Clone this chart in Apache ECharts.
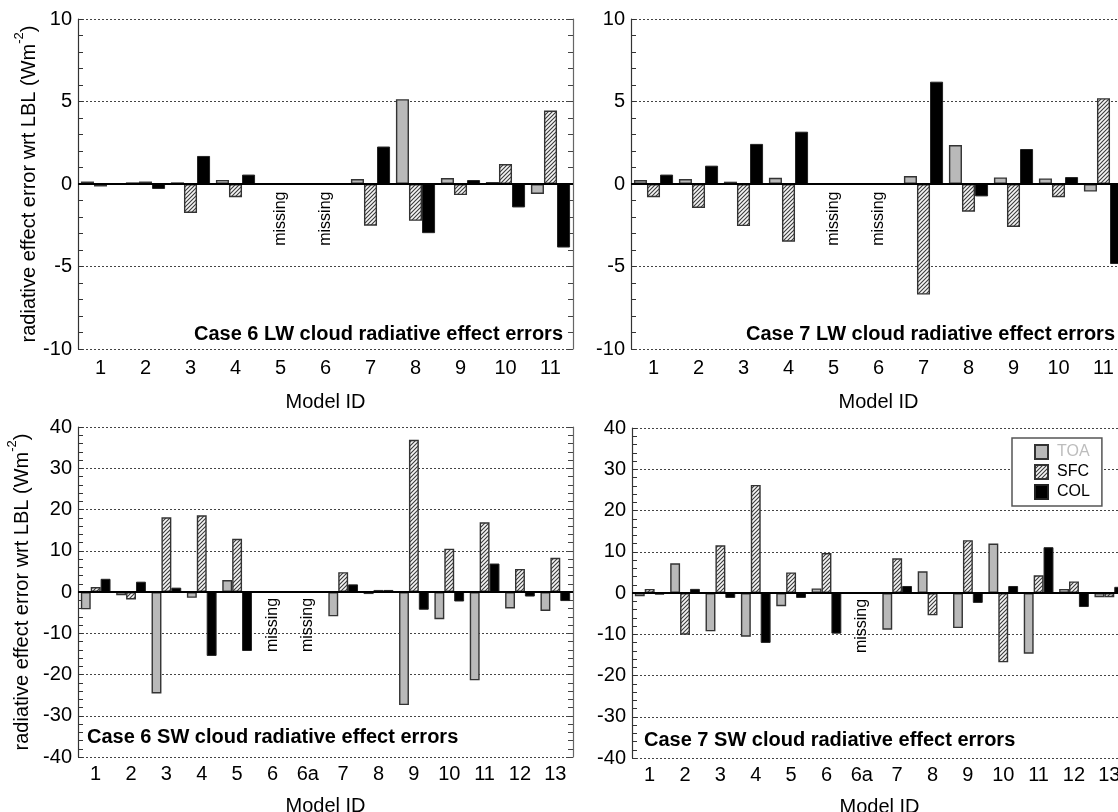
<!DOCTYPE html>
<html>
<head>
<meta charset="utf-8">
<script src="https://cdn.jsdelivr.net/npm/echarts@6/dist/echarts.min.js"></script>
<style>
  html, body { margin: 0; padding: 0; background: #ffffff; }
  #chart { width: 1118px; height: 812px; }
</style>
</head>
<body>
<div id="chart"></div>
<script>
// Model IDs
const modelsLW = ['1', '2', '3', '4', '5', '6', '7', '8', '9', '10', '11'];
const modelsSW = ['1', '2', '3', '4', '5', '6', '6a', '7', '8', '9', '10', '11', '12', '13'];

// Y-axis tick labels
const ticksLW = [-10, -5, 0, 5, 10];
const ticksSW = [-40, -30, -20, -10, 0, 10, 20, 30, 40];

// Case 6 LW cloud radiative effect errors (W m-2); null = no result
const case6LW_TOA = [0.15, 0.1, 0.1, 0.25, null, null, 0.3, 5.14, 0.36, 0.12, -0.6];
const case6LW_SFC = [-0.15, 0.15, -1.75, -0.8, null, null, -2.53, -2.23, -0.67, 1.21, 4.45];
const case6LW_COL = [0, -0.3, 1.7, 0.57, null, null, 2.27, -2.98, 0.24, -1.42, -3.85];

// Case 7 LW
const case7LW_TOA = [0.24, 0.3, 0.14, 0.38, null, null, 0.48, 2.36, 0.4, 0.34, -0.46];
const case7LW_SFC = [-0.8, -1.45, -2.55, -3.5, null, null, -6.7, -1.68, -2.6, -0.8, 5.2];
const case7LW_COL = [0.57, 1.11, 2.43, 3.17, null, null, 6.2, -0.75, 2.12, 0.42, -4.85];

// Case 6 SW
const case6SW_TOA = [-4.2, -0.8, -24.6, -1.4, 2.9, null, null, -5.9, -0.5, -27.4, -6.6, -21.4, -4.0, -4.6];
const case6SW_SFC = [1.2, -1.8, 18.1, 18.6, 12.9, null, null, 4.8, 0.5, 36.9, 10.5, 16.9, 5.6, 8.3];
const case6SW_COL = [3.2, 2.5, 1.05, -15.5, -14.3, null, null, 1.85, 0.5, -4.3, -2.3, 6.9, -1.1, -2.2];

// Case 7 SW
const case7SW_TOA = [-0.8, 7.2, -9.3, -10.6, -3.2, 1.1, null, -8.9, 5.25, -8.5, 12.0, -14.7, 1.0, -1.0];
const case7SW_SFC = [1.0, -10.1, 11.55, 26.2, 5.0, 9.7, null, 8.4, -5.4, 12.8, -16.8, 4.3, 2.8, -1.0];
const case7SW_COL = [-0.4, 1.0, -1.2, -12.1, -1.2, -9.85, null, 1.7, 0, -2.4, 1.7, 11.1, -3.4, 1.5];

// Models without results, with the value where the note is centred
const case6LW_missing = [['5', -2.1], ['6', -2.1]];
const case7LW_missing = [['5', -2.1], ['6', -2.1]];
const case6SW_missing = [['6', -8], ['6a', -8]];
const case7SW_missing = [['6a', -8]];

const panelTitles = [
  'Case 6 LW cloud radiative effect errors',
  'Case 7 LW cloud radiative effect errors',
  'Case 6 SW cloud radiative effect errors',
  'Case 7 SW cloud radiative effect errors'
];

const FONT = 'Liberation Sans, Arial, Helvetica, sans-serif';

// Diagonal hatch used for the SFC bars
function makeHatch() {
  const c = document.createElement('canvas');
  const s = 4;
  c.width = s; c.height = s;
  const g = c.getContext('2d');
  g.fillStyle = '#f6f6f6';
  g.fillRect(0, 0, s, s);
  g.strokeStyle = '#3a3a3a';
  g.lineWidth = 1.1;
  g.beginPath();
  g.moveTo(0, s); g.lineTo(s, 0);
  g.moveTo(-1, 1); g.lineTo(1, -1);
  g.moveTo(s - 1, s + 1); g.lineTo(s + 1, s - 1);
  g.stroke();
  return c;
}
const hatch = { image: makeHatch(), repeat: 'repeat' };

// Plot areas; the right-hand panels run past the page edge
const grids = [
  { left: 78, top: 19, width: 495, height: 330, outerBoundsMode: 'none', containLabel: false },
  { left: 631, top: 19, width: 495, height: 330, outerBoundsMode: 'none', containLabel: false },
  { left: 78, top: 427, width: 495, height: 330, outerBoundsMode: 'none', containLabel: false },
  { left: 632, top: 428, width: 495, height: 330, outerBoundsMode: 'none', containLabel: false }
];

const panels = [
  { cats: modelsLW, ticks: ticksLW, toa: case6LW_TOA, sfc: case6LW_SFC, col: case6LW_COL, miss: case6LW_missing, gap: '13%', yName: true, nameGap: 37 },
  { cats: modelsLW, ticks: ticksLW, toa: case7LW_TOA, sfc: case7LW_SFC, col: case7LW_COL, miss: case7LW_missing, gap: '13%', yName: false },
  { cats: modelsSW, ticks: ticksSW, toa: case6SW_TOA, sfc: case6SW_SFC, col: case6SW_COL, miss: case6SW_missing, gap: '16%', yName: true, nameGap: 46 },
  { cats: modelsSW, ticks: ticksSW, toa: case7SW_TOA, sfc: case7SW_SFC, col: case7SW_COL, miss: case7SW_missing, gap: '16%', yName: false }
];

const xAxes = [], yAxes = [], series = [];

panels.forEach((p, i) => {
  const lo = p.ticks[0], hi = p.ticks[p.ticks.length - 1];
  const step = p.ticks[1] - p.ticks[0];
  const minorSplit = 5;

  xAxes.push({
    type: 'category', gridIndex: i, data: p.cats,
    axisLine: { show: false, onZero: false }, axisTick: { show: false },
    axisLabel: { interval: 0, fontSize: 20, color: '#000', fontFamily: FONT, margin: i < 2 ? 9 : 7 },
    name: 'Model ID', nameLocation: 'middle', nameGap: i < 2 ? 43 : 39,
    nameTextStyle: { fontSize: 20, color: '#000', fontFamily: FONT },
    splitLine: { show: false }
  });

  // left value axis
  yAxes.push({
    type: 'value', gridIndex: i, min: lo, max: hi, interval: step,
    axisLine: { show: true, lineStyle: { color: '#333', width: 1.2 } },
    axisTick: { show: true, inside: true, length: 5, lineStyle: { color: '#333', width: 1 } },
    minorTick: { show: true, splitNumber: minorSplit, length: 5, lineStyle: { color: '#333', width: 1 } },
    splitLine: { show: true, lineStyle: { type: [2, 2], color: '#444', width: 1 } },
    axisLabel: { fontSize: 20, color: '#000', fontFamily: FONT, margin: 6 },
    name: p.yName ? '{t|radiative effect error wrt LBL (Wm}{s|-2}{t|)}' : '',
    nameLocation: 'middle', nameRotate: 90, nameGap: p.nameGap || 0,
    nameTextStyle: {
      fontFamily: FONT, color: '#000',
      rich: {
        t: { fontSize: 20, fontFamily: FONT, color: '#000', lineHeight: 26, verticalAlign: 'bottom' },
        s: { fontSize: 13, fontFamily: FONT, color: '#000', lineHeight: 26, verticalAlign: 'top' }
      }
    }
  });
  // right frame axis
  yAxes.push({
    type: 'value', gridIndex: i, min: lo, max: hi, interval: step, position: 'right',
    axisLine: { show: true, lineStyle: { color: '#666', width: 1.2 } },
    axisTick: { show: true, inside: true, length: 5, lineStyle: { color: '#444', width: 1 } },
    minorTick: { show: true, splitNumber: minorSplit, length: 5, lineStyle: { color: '#444', width: 1 } },
    splitLine: { show: false }, axisLabel: { show: false }
  });

  const yIdx = i * 2;
  const barBase = {
    type: 'bar', xAxisIndex: i, yAxisIndex: yIdx,
    barGap: '0%', barCategoryGap: p.gap, animation: false
  };
  series.push(Object.assign({}, barBase, {
    name: 'TOA', data: p.toa,
    itemStyle: { color: '#b9b9b9', borderColor: '#333', borderWidth: 1.4 },
    markLine: {
      silent: true, symbol: ['none', 'none'], label: { show: false },
      lineStyle: { color: '#000', width: 2, type: 'solid' },
      data: [{ yAxis: 0 }], animation: false
    }
  }));
  series.push(Object.assign({}, barBase, {
    name: 'SFC', data: p.sfc,
    itemStyle: { color: hatch, borderColor: '#333', borderWidth: 1.4 }
  }));
  series.push(Object.assign({}, barBase, {
    name: 'COL', data: p.col,
    itemStyle: { color: '#000', borderColor: '#222', borderWidth: 1 }
  }));
  // "missing" notes under the zero line
  series.push({
    type: 'scatter', xAxisIndex: i, yAxisIndex: yIdx, name: 'missing',
    data: p.miss, symbolSize: 2, itemStyle: { color: 'rgba(0,0,0,0)' },
    animation: false, silent: true, z: 5,
    label: {
      show: true, position: 'inside', rotate: 90, formatter: 'missing',
      fontSize: 16, color: '#000', opacity: 1, fontFamily: FONT
    },
    labelLayout: { hideOverlap: false }
  });
});

const titleStyle = { fontSize: 20, fontWeight: 'bold', color: '#000', fontFamily: FONT };
const titles = [
  { text: panelTitles[0], right: 555, top: 324, padding: 0, textStyle: titleStyle },
  { text: panelTitles[1], right: 3, top: 324, padding: 0, textStyle: titleStyle },
  { text: panelTitles[2], left: 87, top: 727, padding: 0, textStyle: titleStyle },
  { text: panelTitles[3], left: 644, top: 730, padding: 0, textStyle: titleStyle }
];

const chart = echarts.init(document.getElementById('chart'), null, { renderer: 'canvas' });
chart.setOption({
  backgroundColor: '#fff',
  animation: false,
  title: titles,
  grid: grids,
  xAxis: xAxes,
  yAxis: yAxes,
  series: series,
  legend: {
    orient: 'vertical', left: 1012, top: 438,
    padding: [6, 12, 6, 22], itemGap: 4, itemWidth: 13, itemHeight: 14,
    borderColor: '#555', borderWidth: 1.5, backgroundColor: '#fff',
    icon: 'rect',
    textStyle: { fontSize: 16, fontFamily: FONT, color: '#000', padding: [0, 0, 0, 4] },
    data: [
      { name: 'TOA', textStyle: { color: '#bdbdbd' } },
      { name: 'SFC' },
      { name: 'COL' }
    ],
    selectedMode: false
  }
});
</script>
</body>
</html>
